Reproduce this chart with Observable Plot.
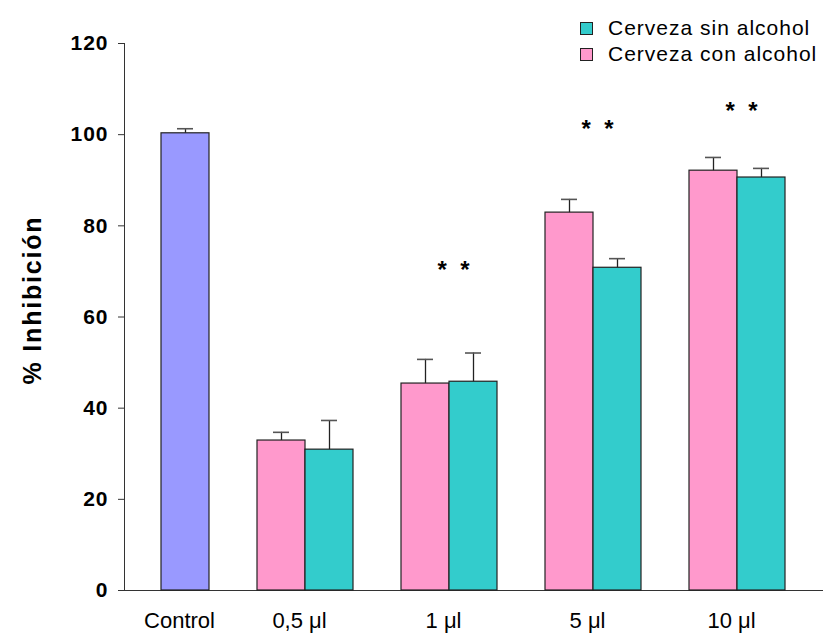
<!DOCTYPE html>
<html>
<head>
<meta charset="utf-8">
<script src="https://cdn.jsdelivr.net/npm/d3@7"></script>
<script src="https://cdn.jsdelivr.net/npm/@observablehq/plot@0.6"></script>
<style>
  body { margin: 0; background: #fff; }
  #wrap { position: relative; width: 827px; height: 644px; font-family: "Liberation Sans", Arial, sans-serif; }
  #legend { position: absolute; left: 580px; top: 15px; font-size: 21px; letter-spacing: 1px; color: #000; }
  #legend .item { display: flex; align-items: center; height: 26px; }
  #legend .sw { width: 11px; height: 11px; border: 1px solid #222; margin-right: 15px; }
  #ylabel { position: absolute; left: 32px; top: 300px; transform: translate(-50%, -50%) rotate(-90deg);
            white-space: nowrap; font-size: 25px; font-weight: bold; letter-spacing: 1.8px; color: #000; line-height: 1; }
</style>
</head>
<body>
<div id="wrap">
  <div id="legend"></div>
  <div id="ylabel"></div>
</div>
<script>
// ---- data ----
const groups = ["0,5 μl", "1 μl", "5 μl", "10 μl"];
const controlLabel = "Control";
const controlValue = 100.3;
const controlErr = 1.0;
const conValues = [32.9, 45.4, 82.9, 92.1];   // Cerveza con alcohol
const conErr    = [1.8, 5.3, 2.9, 2.9];
const sinValues = [30.9, 45.8, 70.8, 90.6];   // Cerveza sin alcohol
const sinErr    = [6.4, 6.3, 2.0, 2.0];
const starHeights = [null, 70.2, 101.1, 105.1];
const starText = "*\u00a0\u00a0*";
const yTicks = [0, 20, 40, 60, 80, 100, 120];
const yLabel = "% Inhibición";
const seriesNames = ["Cerveza sin alcohol", "Cerveza con alcohol"];
const colors = { control: "#9999FF", con: "#FF99CC", sin: "#33CCCC" };

// ---- build tables ----
const slots = [controlLabel];
groups.forEach((g, i) => slots.push("gap" + i, g + "|con", g + "|sin"));

const bars = [{ slot: controlLabel, v: controlValue, e: controlErr, kind: "control" }];
groups.forEach((g, i) => {
  bars.push({ slot: g + "|con", v: conValues[i], e: conErr[i], kind: "con" });
  bars.push({ slot: g + "|sin", v: sinValues[i], e: sinErr[i], kind: "sin" });
});
const stars = groups.map((g, i) => ({ slot: g + "|sin", y: starHeights[i] })).filter(d => d.y != null);
const groupLabels = groups.map(g => ({ slot: g + "|sin", label: g }));

const chart = Plot.plot({
  width: 827,
  height: 644,
  marginTop: 43,
  marginBottom: 54,
  marginLeft: 124,
  marginRight: 5,
  style: { fontFamily: "Liberation Sans, Arial, sans-serif", background: "#fff", color: "#000" },
  x: { type: "band", domain: slots, paddingInner: 0, paddingOuter: 0.76, axis: null },
  y: { domain: [0, 120], axis: null },
  color: { type: "identity" },
  marks: [
    Plot.axisY({ ticks: yTicks, tickSize: 6, tickFormat: () => "", label: null, stroke: "#333" }),
    Plot.text(yTicks, { y: d => d, frameAnchor: "left", dx: -16, textAnchor: "end", text: d => String(d),
                        fontSize: 21, fontWeight: "bold", fill: "#000" }),
    Plot.frame({ anchor: "left", stroke: "#333" }),
    Plot.frame({ anchor: "bottom", stroke: "#333" }),
    Plot.barY(bars, { x: "slot", y: "v", fill: d => colors[d.kind], stroke: "#222", strokeWidth: 1.2 }),
    Plot.ruleX(bars, { x: "slot", y1: "v", y2: d => d.v + d.e, stroke: "#222", strokeWidth: 1.3 }),
    Plot.tickY(bars, { x: "slot", y: d => d.v + d.e, insetLeft: 16, insetRight: 16, stroke: "#555", strokeWidth: 1.6 }),
    Plot.text(stars, { x: "slot", y: "y", text: () => starText, dx: -20, fontSize: 24, fontWeight: "bold", fill: "#000" }),
    Plot.text([controlLabel], { x: d => d, frameAnchor: "bottom", dy: 37, dx: -6, text: d => d, fontSize: 22, fill: "#000" }),
    Plot.text(groupLabels, { x: "slot", frameAnchor: "bottom", dy: 37, dx: -30, text: "label", fontSize: 22, fill: "#000" })
  ]
});
d3.select(chart).selectAll("text").filter(function () { return /^\d+$/.test(this.textContent); })
  .style("letter-spacing", "1px");
document.getElementById("wrap").appendChild(chart);
document.getElementById("ylabel").textContent = yLabel;

// legend
const legend = document.getElementById("legend");
[["sin", seriesNames[0]], ["con", seriesNames[1]]].forEach(([k, name]) => {
  const item = document.createElement("div");
  item.className = "item";
  const sw = document.createElement("span");
  sw.className = "sw";
  sw.style.background = colors[k];
  const t = document.createElement("span");
  t.textContent = name;
  item.appendChild(sw);
  item.appendChild(t);
  legend.appendChild(item);
});
</script>
</body>
</html>
